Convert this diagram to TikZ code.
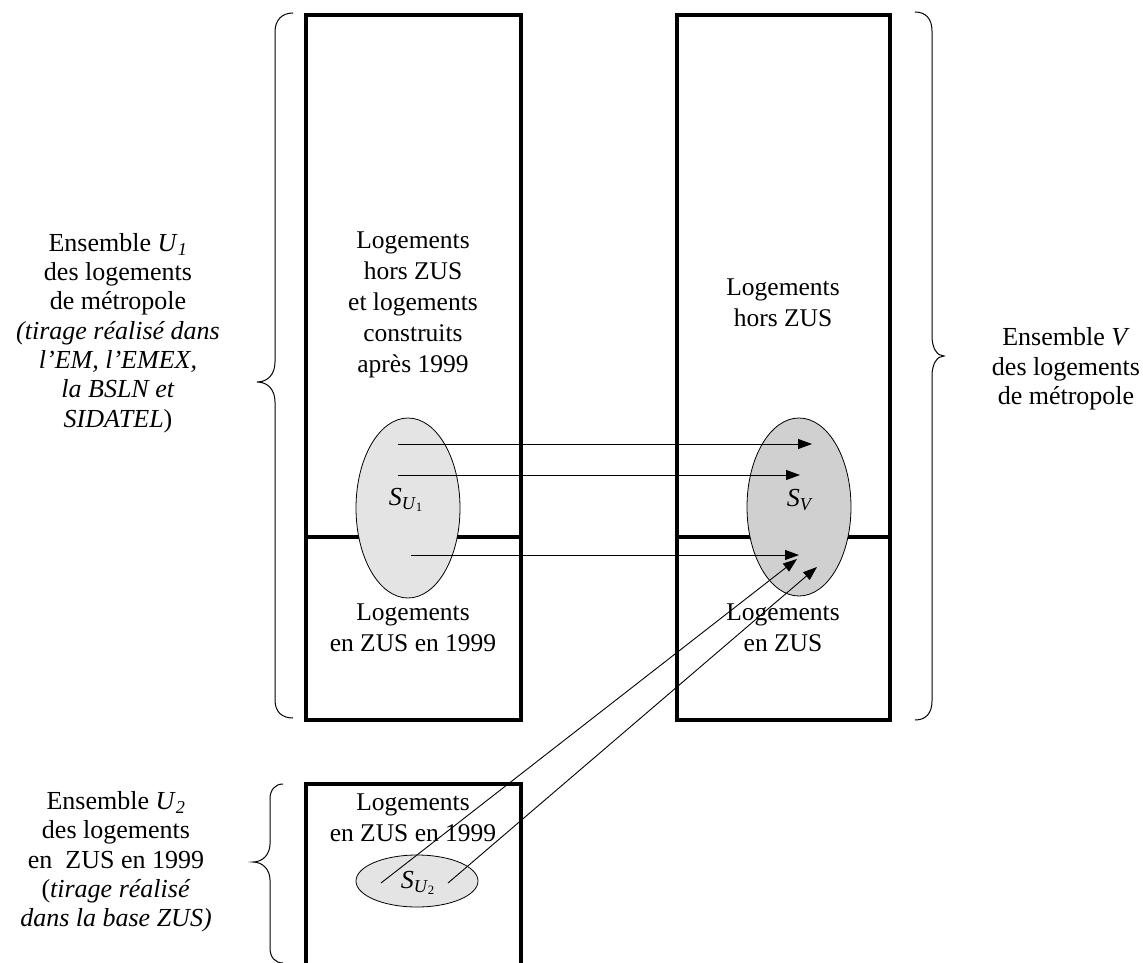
\documentclass[tikz,border=0pt]{standalone}
\usepackage{fontspec}
\setmainfont{Liberation Serif}
\usetikzlibrary{arrows.meta,shapes.geometric}
\definecolor{lightfill}{HTML}{E4E4E4}
\definecolor{darkfill}{HTML}{D0D0D0}
\begin{document}
\begin{tikzpicture}[x=1pt,y=-1pt,
  box/.style={line width=4pt},
  lbl/.style={align=center,font=\fontsize{25.5}{31}\selectfont,inner sep=0pt},
  side/.style={align=center,font=\fontsize{26}{29.3}\selectfont,inner sep=0pt},
  samp/.style={ellipse,draw=black,line width=0.8pt,inner sep=0pt},
  slbl/.style={inner sep=0pt,font=\fontsize{26}{30}\selectfont},
  arr/.style={-{Triangle[length=14pt,width=10pt]},line width=0.9pt},
  bracestyle/.style={line width=1pt}]
\useasboundingbox (0,0) rectangle (1143,963);
% boxes
\draw[box] (306,15) rectangle (521,720);
\draw[box] (306,537) -- (521,537);
\draw[box] (677,15) rectangle (890,720);
\draw[box] (677,537) -- (890,537);
\draw[box] (306,975) -- (306,784) -- (521,784) -- (521,975);
% box texts
\node[lbl] (t1) at (413,305) {Logements\\hors ZUS\\et logements\\construits\\après 1999};
\node[lbl] (t2) at (413,628) {Logements\\en ZUS en 1999};
\node[lbl] (t3) at (783,303) {Logements\\hors ZUS};
\node[lbl] (t4) at (783,628) {Logements\\en ZUS};
\node[lbl] (t5) at (413,818) {Logements\\en ZUS en 1999};
% samples
\node[samp,fill=lightfill,minimum width=104pt,minimum height=180pt] (eU1) at (408,508) {};
\node[samp,fill=darkfill,minimum width=104pt,minimum height=178pt] (eV) at (799,507) {};
\node[samp,fill=lightfill,minimum width=122pt,minimum height=52pt] (eU2) at (417,881) {};
\node[slbl] (lU1) at (406,500) {\textit{S}\textsubscript{\textit{U}\textsubscript{1}}};
\node[slbl] (lV) at (800,500) {\textit{S}\textsubscript{\textit{V}}};
\node[slbl] (lU2) at (418,883) {\textit{S}\textsubscript{\textit{U}\textsubscript{2}}};
% arrow end points
\coordinate (a1s) at (398,444); \coordinate (a1e) at (812,444);
\coordinate (a2s) at (398,475); \coordinate (a2e) at (800,475);
\coordinate (a3s) at (411,555); \coordinate (a3e) at (799,555);
\coordinate (d1s) at (381,883); \coordinate (d1e) at (797,559);
\coordinate (d2s) at (448,883); \coordinate (d2e) at (817,567);
\draw[arr] (a1s) -- (a1e);
\draw[arr] (a2s) -- (a2e);
\draw[arr] (a3s) -- (a3e);
\draw[arr] (d1s) -- (d1e);
\draw[arr] (d2s) -- (d2e);
% braces
\draw[bracestyle] (293,13) .. controls (282,13) and (275,20) .. (275,32) -- (275,362)
  .. controls (275,374) and (268,382) .. (257,382) .. controls (268,382) and (275,390) .. (275,402)
  -- (275,700) .. controls (275,712) and (282,718) .. (293,718);
\draw[bracestyle] (915,12) .. controls (926,12) and (932,19) .. (932,31) -- (932,336)
  .. controls (932,348) and (937,356) .. (944,356) .. controls (937,356) and (932,364) .. (932,376)
  -- (932,701) .. controls (932,713) and (926,720) .. (915,720);
\draw[bracestyle] (283,784) .. controls (275,784) and (270,790) .. (270,799) -- (270,844)
  .. controls (270,854) and (263,862) .. (253,862) .. controls (263,862) and (270,870) .. (270,880)
  -- (270,948) .. controls (270,957) and (275,963) .. (283,963);
% side texts
\node[side] (sU1) at (118,333) {Ensemble \textit{U}\textsubscript{\textit{1}}\\des logements\\de métropole\\\textit{(tirage réalisé dans}\\\textit{l'EM, l'EMEX,}\\\textit{la BSLN et}\\\textit{SIDATEL})};
\node[side] (sV) at (1066,369) {Ensemble \textit{V}\\des logements\\de métropole};
\node[side] (sU2) at (116,862) {Ensemble \textit{U}\textsubscript{\textit{2}}\\des logements\\en~ ZUS en 1999\\(\textit{tirage réalisé}\\\textit{dans la base ZUS)}};
\end{tikzpicture}
\end{document}
